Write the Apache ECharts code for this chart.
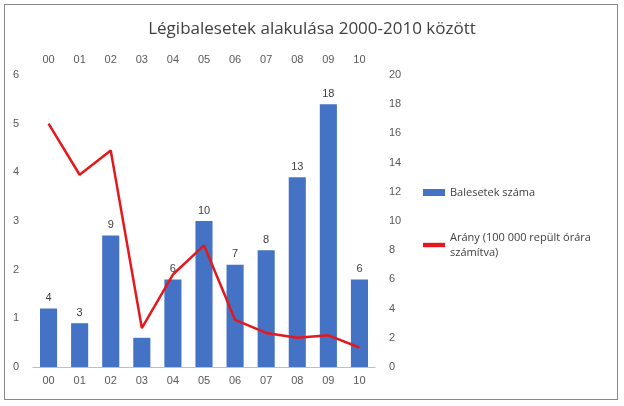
<!DOCTYPE html>
<html>
<head>
<meta charset="utf-8">
<script src="https://cdn.jsdelivr.net/npm/echarts@6/dist/echarts.min.js"></script>
<style>
html,body{margin:0;padding:0;background:#fff;}
#frame{position:absolute;left:4px;top:4px;width:614px;height:396px;border:1px solid #888;box-sizing:border-box;}
#chart{width:624px;height:406px;}
</style>
</head>
<body>
<div id="frame"></div>
<div id="chart"></div>
<script>
var years = ['00','01','02','03','04','05','06','07','08','09','10'];
var accidents = [4, 3, 9, 2, 6, 10, 7, 8, 13, 18, 6];
var ratio = [5.0, 3.95, 4.45, 0.8, 1.9, 2.5, 0.97, 0.7, 0.6, 0.65, 0.4];
var hiddenLabels = ['03'];

var dom = document.getElementById('chart');
var myChart = echarts.init(dom);
var option = {
	title: {
		text: 'Légibalesetek alakulása 2000-2010 között',
		left: 'center',
		top: 16,
		textStyle: { color: '#404040', fontSize: 17, fontWeight: 'normal', fontFamily: 'Open Sans' }
	},
	legend: {
		orient: 'vertical',
		left: 418,
		top: 180,
		itemGap: 30,
		textStyle: { color: '#404040', fontSize: 11, fontFamily: 'Open Sans', lineHeight: 15 },
		data: [
			{ name: 'Balesetek száma', icon: 'rect' },
			{ name: 'Arány (100 000 repült órára\nszámítva)', icon: 'path://M0,0H10V2H0Z' }
		],
		itemWidth: 22,
		itemHeight: 7
	},
	grid: { left: 33, right: 249, top: 75, bottom: 39 },
	xAxis: [{
		type: 'category',
		data: years,
		position: 'bottom',
		axisLine: { lineStyle: { color: '#bfbfbf' } },
		axisTick: { show: false },
		axisLabel: { color: '#595959', fontSize: 11 }
	}, {
		type: 'category',
		data: years,
		position: 'top',
		axisLine: { show: false },
		axisTick: { show: false },
		axisLabel: { color: '#595959', fontSize: 11, margin: 10 }
	}],
	yAxis: [{
		type: 'value', min: 0, max: 6, interval: 1,
		axisLine: { show: false }, axisTick: { show: false },
		axisLabel: { color: '#595959', fontSize: 11, margin: 14 },
		splitLine: { show: false }
	}, {
		type: 'value', min: 0, max: 20, interval: 2,
		axisLine: { show: false }, axisTick: { show: false },
		axisLabel: { color: '#595959', fontSize: 11, margin: 14 },
		splitLine: { show: false }
	}],
	series: [{
		name: 'Balesetek száma',
		type: 'bar',
		xAxisIndex: 0,
		yAxisIndex: 1,
		data: accidents.map(function (v, i) {
			return { value: v, label: { show: hiddenLabels.indexOf(years[i]) < 0 } };
		}),
		barWidth: '55%',
		itemStyle: { color: '#4472C4' },
		label: { show: true, position: 'top', color: '#404040', fontSize: 11 }
	}, {
		name: 'Arány (100 000 repült órára\nszámítva)',
		type: 'line',
		xAxisIndex: 1,
		yAxisIndex: 0,
		data: ratio,
		symbol: 'none',
		lineStyle: { color: '#E3191E', width: 2.5 },
		itemStyle: { color: '#E3191E' }
	}]
};
myChart.setOption(option, true);
</script>
</body>
</html>
